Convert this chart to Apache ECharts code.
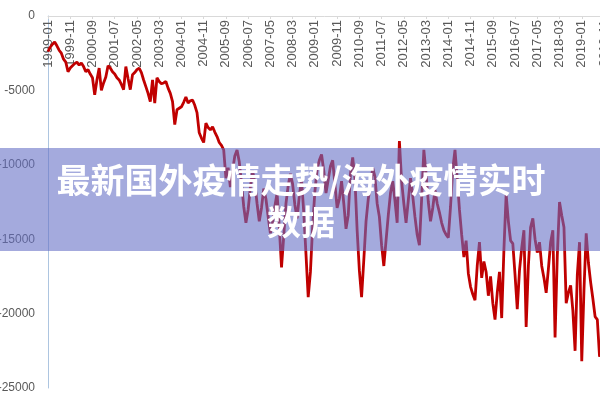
<!DOCTYPE html>
<html>
<head>
<meta charset="utf-8">
<script src="https://cdn.jsdelivr.net/npm/echarts@6/dist/echarts.min.js"></script>
<style>html,body{margin:0;padding:0;background:#fff;}#c{width:600px;height:400px;}</style>
</head>
<body>
<div id="c"></div>
<script>
// Monthly categories 1999-01 .. 2019-11
var months = [];
for (var y = 1999; y <= 2019; y++) {
  for (var m = 1; m <= 12; m++) {
    if (y === 2019 && m > 11) break;
    months.push(y + '-' + (m < 10 ? '0' + m : m));
  }
}
var yTicks = [0, -5000, -10000, -15000, -20000, -25000];
var values = [
  -2400, -2100, -1900, -1750, -2000, -2300, -2500, -2900, -3100, -3750,
  -3500, -3350, -3200, -3100, -3300, -3150, -3400, -3750, -3600, -3900,
  -4150, -5300, -4300, -3500, -5000, -4500, -4100, -3350, -3500, -3750,
  -3900, -4150, -4300, -4600, -4950, -3400, -4200, -4950, -3950, -3800,
  -3600, -3500, -3800, -4300, -4750, -5200, -5750, -4300, -5850, -4150,
  -4400, -4550, -4500, -4400, -4850, -5200, -5750, -7300, -6300, -6200,
  -6100, -5800, -5450, -5850, -5700, -5650, -6000, -6500, -7850, -8200,
  -8500, -7200, -7500, -7650, -7450, -7800, -8100, -8500, -8700, -9000,
  -10900, -10200, -11500, -10400, -9400, -9000, -9800, -11200, -12800, -13900,
  -13000, -11500, -10400, -11200, -12600, -13800, -12900, -11600, -12300, -13500,
  -14600, -13900, -12800, -11900, -14200, -16900, -14800, -12600, -11400, -10600,
  -11300, -12700, -13600, -12100, -11000, -13200, -16000, -18900, -17200, -14100,
  -11800, -10300, -9700, -9300, -10400, -11900, -11000, -10100, -9700, -11300,
  -12900, -12300, -11100, -12600, -14300, -13400, -10600, -9500, -10900, -14400,
  -17100, -18900, -16400, -13800, -12300, -11400, -10200, -10800, -12600, -13500,
  -15400, -16800, -15100, -13400, -11900, -11100, -12400, -13900, -8400, -11100,
  -12600, -13900, -12400, -10900, -12100, -13500, -14700, -15400, -12300, -9000,
  -10600, -12500, -13800, -12900, -11700, -12600, -13200, -13900, -14400, -14700,
  -14900, -12800, -10300, -9000, -10900, -13000, -14700, -16200, -15100, -17300,
  -18200, -18700, -19100, -16800, -15200, -17600, -16500, -17200, -18800, -17500,
  -19300, -20400, -18600, -17200, -20300, -15700, -12000, -13800, -15100, -15300,
  -17400, -19700, -17100, -15600, -14400, -20900, -16800, -14200, -13600, -15000,
  -15900, -15200, -16800, -17600, -18600, -17000, -15200, -14400, -21600, -16100,
  -12500, -13400, -14200, -19300, -18600, -18100, -19800, -22500, -17400, -15200,
  -23200, -18400, -14600, -16600, -17900, -19000, -20200, -20400, -22900, -21800,
  -22400
];
var titleLine1 = '最新国外疫情走势/海外疫情实时';
var titleLine2 = '数据';

var chart = echarts.init(document.getElementById('c'), null, {renderer: 'canvas'});
chart.setOption({
  animation: false,
  backgroundColor: '#ffffff',
  grid: {left: 48, top: 16, right: -4, bottom: 12, containLabel: false, outerBoundsMode: 'none'},
  xAxis: {
    type: 'category',
    data: months,
    position: 'top',
    boundaryGap: false,
    axisLine: {show: true, lineStyle: {color: '#d9d9d9', width: 1}},
    axisTick: {show: true, inside: true, length: 3, interval: 9, lineStyle: {color: '#d9d9d9'}},
    axisLabel: {inside: true, rotate: 90, interval: 9, margin: 4, color: '#595959', fontSize: 13, fontFamily: 'Liberation Sans', hideOverlap: false},
    splitLine: {show: false}
  },
  yAxis: {
    type: 'value',
    min: yTicks[yTicks.length - 1],
    max: yTicks[0],
    interval: 5000,
    axisLine: {show: true, lineStyle: {color: '#adc5e0', width: 1}},
    axisTick: {show: false},
    axisLabel: {margin: 13, color: '#595959', fontSize: 12, fontFamily: 'Liberation Sans', formatter: function (v) { return String(v); }},
    splitLine: {show: false}
  },
  series: [{
    type: 'line',
    data: values,
    showSymbol: false,
    symbol: 'none',
    lineStyle: {color: '#c00000', width: 2.8},
    z: 2
  }],
  graphic: [
    {type: 'rect', left: 0, top: 148, z: 100, shape: {width: 600, height: 103}, style: {fill: 'rgba(100,110,198,0.59)'}},
    {type: 'text', z: 101, x: 301, y: 180, style: {text: titleLine1, fill: '#ffffff', font: 'bold 34px "Noto Sans CJK SC"', textAlign: 'center', textVerticalAlign: 'middle'}},
    {type: 'text', z: 101, x: 301, y: 222, style: {text: titleLine2, fill: '#ffffff', font: 'bold 34px "Noto Sans CJK SC"', textAlign: 'center', textVerticalAlign: 'middle'}}
  ]
});
</script>
</body>
</html>
